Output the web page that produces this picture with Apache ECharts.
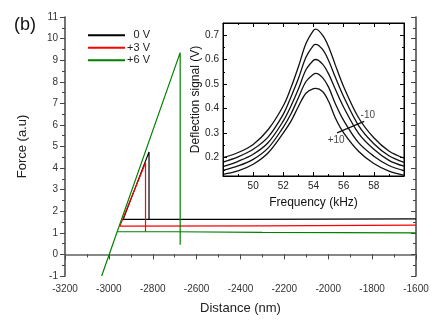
<!DOCTYPE html>
<html>
<head>
<meta charset="utf-8">
<script src="https://cdn.jsdelivr.net/npm/echarts@6/dist/echarts.min.js"></script>
<style>
  html, body { margin: 0; padding: 0; background: #fff; }
  #chart { width: 436px; height: 328px; }
</style>
</head>
<body>
<div id="chart"></div>
<script>
// main panel: force vs distance
const blackX = [-1600, -2400, -2935, -2817, -2817];
const blackY = [1.65, 1.62, 1.62, 4.75, 1.62];
const redX = [-1600, -2300, -2950, -2833, -2833];
const redY = [1.36, 1.32, 1.31, 4.25, 1.05];
const greenUpX = [-3033, -2675, -2675];
const greenUpY = [-1, 9.35, 0.45];
const greenBaseX = [-2962, -2700, -2300, -1600];
const greenBaseY = [1.05, 1.05, 1.02, 1.0];

// inset: deflection vs frequency, one curve per bias (-10 ... +10)
const freq = [48, 49, 50, 51, 52, 52.5, 53, 53.5, 54, 54.15, 54.6, 55, 55.45, 56, 57, 58, 59, 60];
const defl1 = [0.200, 0.221, 0.254, 0.315, 0.412, 0.485, 0.571, 0.666, 0.720, 0.725, 0.700, 0.653, 0.578, 0.490, 0.362, 0.281, 0.227, 0.198];
const defl2 = [0.182, 0.203, 0.234, 0.285, 0.378, 0.447, 0.523, 0.610, 0.659, 0.663, 0.642, 0.597, 0.528, 0.449, 0.330, 0.257, 0.208, 0.181];
const defl3 = [0.163, 0.185, 0.214, 0.262, 0.350, 0.410, 0.480, 0.559, 0.598, 0.601, 0.582, 0.542, 0.479, 0.406, 0.298, 0.234, 0.189, 0.165];
const defl4 = [0.148, 0.166, 0.193, 0.240, 0.325, 0.378, 0.445, 0.511, 0.541, 0.544, 0.527, 0.488, 0.420, 0.352, 0.260, 0.206, 0.168, 0.147];
const defl5 = [0.132, 0.146, 0.173, 0.220, 0.301, 0.348, 0.409, 0.463, 0.482, 0.483, 0.470, 0.430, 0.362, 0.301, 0.225, 0.176, 0.145, 0.128];
const arrowF = [55.56, 57.36];
const arrowV = [0.301, 0.348];
const noteF = [57.6, 55.5];
const noteV = [0.373, 0.271];
const noteText = ['-10', '+10'];

const zip = (xs, ys) => xs.map((x, i) => [x, ys[i]]);
const font = 'Liberation Sans, Arial, sans-serif';
const axisCol = '#444';

const chart = echarts.init(document.getElementById('chart'));

const insetLine = (d) => ({
  type: 'line', xAxisIndex: 2, yAxisIndex: 2, data: zip(freq, d),
  smooth: 0.35, showSymbol: false, silent: true, z: 8,
  lineStyle: { color: '#111', width: 1.3 }
});

let option = {
  animation: false,
  textStyle: { fontFamily: font },
  graphic: [
    { type: 'text', left: 14, top: 16, style: { text: '(b)', font: '18px ' + font, fill: '#111' } }
  ],
  legend: {
    data: ['0 V', '+3 V', '+6 V'],
    orient: 'vertical', left: 83, top: 24,
    itemWidth: 37, itemHeight: 2, itemGap: 0, icon: 'rect',
    formatter: (n) => '{r|' + n + '}',
    textStyle: {
      color: '#222', fontSize: 11, lineHeight: 12.5,
      rich: { r: { width: 20, align: 'right', fontSize: 11, fontFamily: font } }
    }
  },
  grid: [
    { left: 65, top: 17, right: 20, bottom: 52 },
    { left: 223, top: 23, width: 181, height: 153, show: true, backgroundColor: '#fff', borderColor: '#000', borderWidth: 1 }
  ],
  xAxis: [
    {
      type: 'value', gridIndex: 0, min: -3200, max: -1600, interval: 200,
      name: 'Distance (nm)', nameLocation: 'middle', nameGap: 26,
      nameTextStyle: { fontSize: 13, color: '#222' },
      axisLine: { lineStyle: { color: axisCol, width: 1.5 } },
      axisTick: { length: 5, lineStyle: { color: axisCol } },
      minorTick: { show: true, splitNumber: 2, length: 3, lineStyle: { color: axisCol } },
      axisLabel: { fontSize: 10, color: '#333', margin: 8, formatter: (v) => String(v) },
      splitLine: { show: false }
    },
    {
      type: 'value', gridIndex: 0, position: 'top', min: -3200, max: -1600, interval: 200,
      axisLine: { lineStyle: { color: '#888', width: 2 } },
      axisTick: { show: false }, axisLabel: { show: false }, splitLine: { show: false }
    },
    {
      type: 'value', gridIndex: 1, min: 48, max: 60, interval: 2,
      name: 'Frequency (kHz)', nameLocation: 'middle', nameGap: 21,
      nameTextStyle: { fontSize: 12, color: '#111' },
      axisLine: { onZero: false, lineStyle: { color: '#000' } },
      axisTick: { inside: true, length: 4, lineStyle: { color: '#000' } },
      minorTick: { show: true, splitNumber: 2, length: 2, lineStyle: { color: '#000' } },
      axisLabel: { fontSize: 10, color: '#222', margin: 5, showMinLabel: false, showMaxLabel: false },
      splitLine: { show: false }, z: 9
    },
    {
      type: 'value', gridIndex: 1, position: 'top', min: 48, max: 60, interval: 2,
      axisLine: { onZero: false, lineStyle: { color: '#000' } },
      axisTick: { inside: true, length: 4, lineStyle: { color: '#000' } },
      minorTick: { show: true, splitNumber: 2, length: 2, lineStyle: { color: '#000' } },
      axisLabel: { show: false }, splitLine: { show: false }, z: 9
    }
  ],
  yAxis: [
    {
      type: 'value', gridIndex: 0, min: -1, max: 11, interval: 1,
      name: 'Force (a.u)', nameLocation: 'middle', nameGap: 36,
      nameTextStyle: { fontSize: 13, color: '#222' },
      axisLine: { show: true, onZero: false, lineStyle: { color: axisCol, width: 1.5 } },
      axisTick: { show: true, length: 5, lineStyle: { color: axisCol } },
      minorTick: { show: true, splitNumber: 2, length: 3, lineStyle: { color: axisCol } },
      axisLabel: { fontSize: 10, color: '#333', margin: 7 },
      splitLine: { show: false }
    },
    {
      type: 'value', gridIndex: 0, position: 'right', min: -1, max: 11, interval: 1,
      axisLine: { show: true, onZero: false, lineStyle: { color: axisCol, width: 1.5 } },
      axisTick: { show: true, inside: true, length: 5, lineStyle: { color: axisCol } },
      minorTick: { show: true, splitNumber: 2, length: 3, lineStyle: { color: axisCol } },
      axisLabel: { show: false }, splitLine: { show: false }
    },
    {
      type: 'value', gridIndex: 1, min: 0.125, max: 0.75,
      name: 'Deflection signal (V)', nameLocation: 'middle', nameGap: 21,
      nameTextStyle: { fontSize: 12, color: '#111' },
      axisLine: { show: true, onZero: false, lineStyle: { color: '#000' } },
      axisTick: { show: true, inside: true, length: 4, lineStyle: { color: '#000' } },
      minorTick: { show: true, splitNumber: 2, length: 2, lineStyle: { color: '#000' } },
      axisLabel: { fontSize: 10, color: '#222', margin: 4, showMinLabel: false, showMaxLabel: false },
      splitLine: { show: false }, z: 9
    },
    {
      type: 'value', gridIndex: 1, position: 'right', min: 0.125, max: 0.75,
      axisLine: { show: true, onZero: false, lineStyle: { color: '#000' } },
      axisTick: { show: true, inside: true, length: 4, lineStyle: { color: '#000' } },
      minorTick: { show: true, splitNumber: 2, length: 2, lineStyle: { color: '#000' } },
      axisLabel: { show: false }, splitLine: { show: false }, z: 9
    }
  ],
  series: [
    { name: '0 V', type: 'line', data: zip(blackX, blackY), showSymbol: false, color: '#000', lineStyle: { width: 1.2 } },
    { name: '+3 V', type: 'line', data: zip(redX, redY), showSymbol: false, color: '#ff0000', lineStyle: { width: 1.2 } },
    { name: '+6 V', type: 'line', data: zip(greenUpX, greenUpY), showSymbol: false, color: '#008000', lineStyle: { width: 1.2 } },
    { name: '+6 V', type: 'line', data: zip(greenBaseX, greenBaseY), showSymbol: false, color: '#008000', lineStyle: { width: 1.2 } },
    insetLine(defl1), insetLine(defl2), insetLine(defl3), insetLine(defl4), insetLine(defl5),
    {
      type: 'line', xAxisIndex: 2, yAxisIndex: 2, data: zip(arrowF, arrowV), z: 8,
      showSymbol: false, silent: true, lineStyle: { color: '#111', width: 1.2 }
    },
    {
      type: 'scatter', xAxisIndex: 2, yAxisIndex: 2, symbolSize: 0, silent: true, z: 8,
      data: noteF.map((f, i) => [f, noteV[i], noteText[i]]),
      label: { show: true, position: 'inside', formatter: (p) => p.value[2], fontSize: 10, color: '#111' }
    }
  ]
};

chart.setOption(option);
</script>
</body>
</html>
